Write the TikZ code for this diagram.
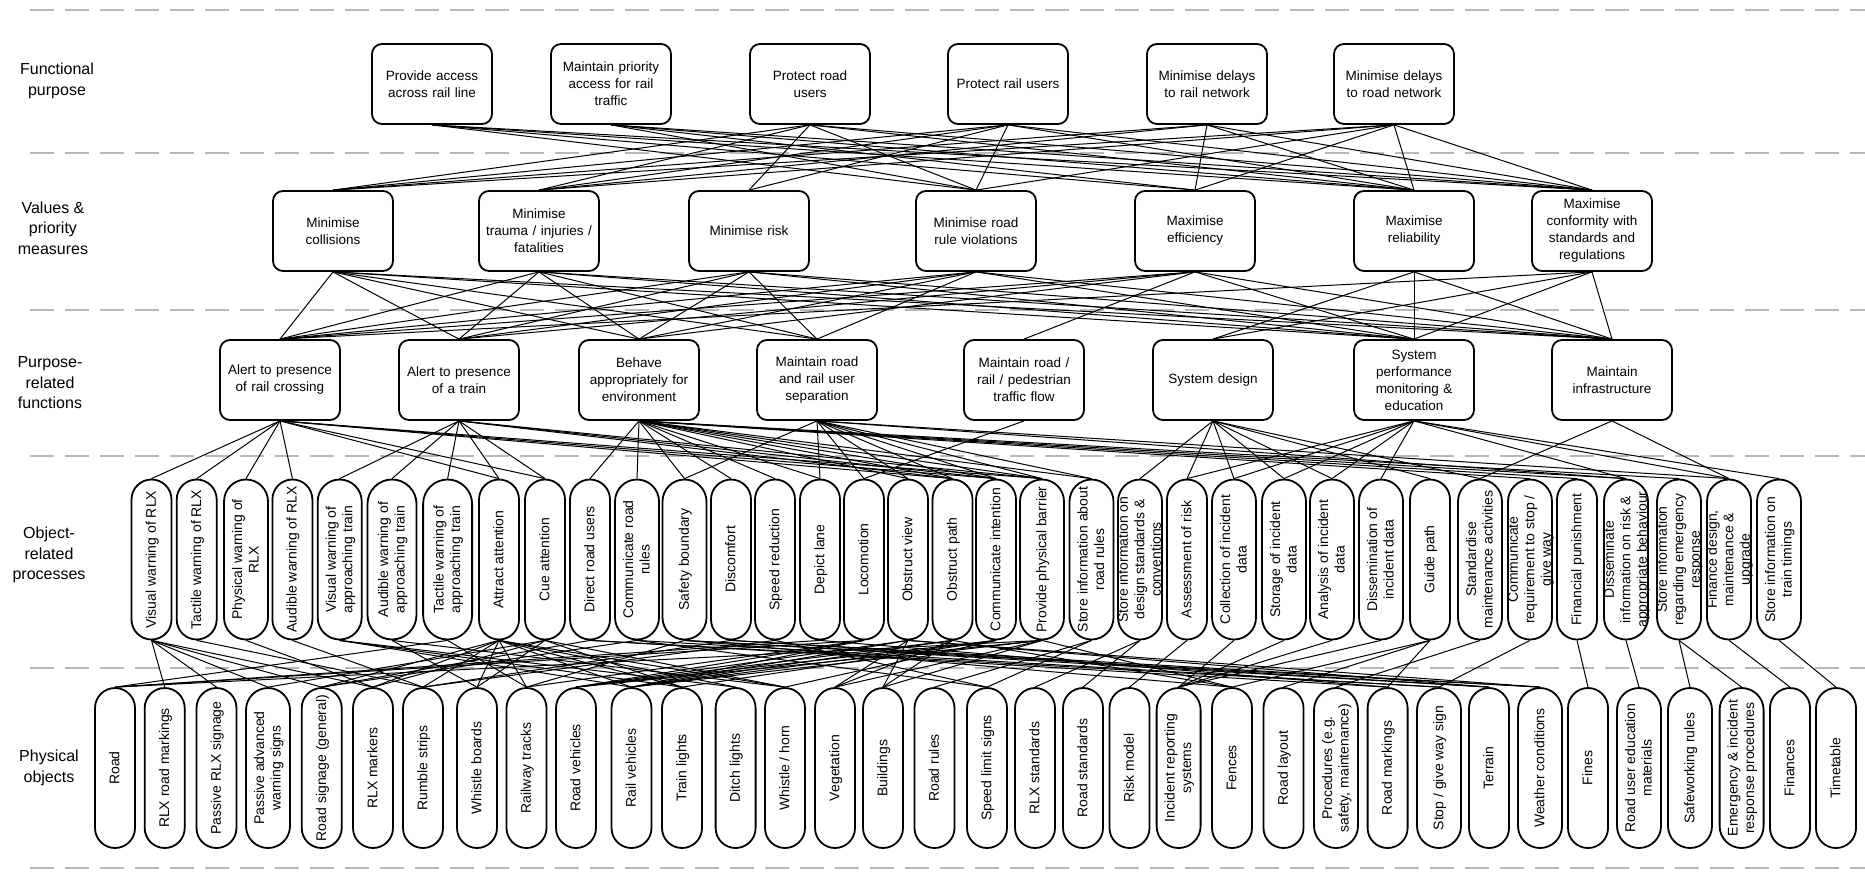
\documentclass[tikz,border=0pt]{standalone}
\usepackage{fontspec}
\setmainfont{Liberation Sans}
\usetikzlibrary{shapes.misc}

% text of a vertical pill, centred and allowed to run over its border
\newcommand{\pilltext}[1]{\makebox[0pt]{\smash{\raisebox{-.33em}{\begin{tabular}{@{}c@{}}#1\end{tabular}}}}}

\begin{document}
\begin{tikzpicture}[
  x=1pt,y=-1pt,
  box/.style={draw,fill=white,line width=1.8pt,rounded corners=10pt,align=center,text width=112pt,minimum width=120pt,minimum height=80pt,inner sep=1pt,font=\fontsize{13.5}{17}\selectfont},
  pill/.style={draw,fill=white,line width=1.8pt,rounded rectangle,rotate=90,minimum width=160pt,minimum height=#1,inner sep=0pt,font=\fontsize{14}{16.5}\selectfont},
  pill/.default=40pt,
  tier/.style={align=center,font=\fontsize{16}{20.5}\selectfont},
  sep/.style={draw=black!28,line width=1.6pt,dash pattern=on 24pt off 11pt},
  link/.style={line width=1pt}
]
\useasboundingbox (0,0) rectangle (1865,875);

\foreach \y in {10,153,310,456,668,868}
  \draw[sep] (30,\y) -- (1865,\y);

% level names
\node[tier] (tfp) at (57,81) {Functional\\purpose};
\node[tier] (tvp) at (53,228) {Values \&\\priority\\measures};
\node[tier] (tpf) at (50,383) {Purpose-\\related\\functions};
\node[tier] (top) at (49,555) {Object-\\related\\processes};
\node[tier] (tpo) at (49,768) {Physical\\objects};

% functional purpose
\node[box] (access) at (432,84) {Provide access\\across rail line};
\node[box] (priority) at (611,84) {Maintain priority\\access for rail\\traffic};
\node[box] (protroad) at (810,84) {Protect road\\users};
\node[box] (protrail) at (1008,84) {Protect rail users};
\node[box] (delrail) at (1207,84) {Minimise delays\\to rail network};
\node[box] (delroad) at (1394,84) {Minimise delays\\to road network};

% values and priority measures
\node[box] (collis) at (333,231) {Minimise\\collisions};
\node[box] (trauma) at (539,231) {Minimise\\trauma / injuries /\\fatalities};
\node[box] (risk) at (749,231) {Minimise risk};
\node[box] (rulevio) at (976,231) {Minimise road\\rule violations};
\node[box] (effic) at (1195,231) {Maximise\\efficiency};
\node[box] (reliab) at (1414,231) {Maximise\\reliability};
\node[box] (conform) at (1592,231) {Maximise\\conformity with\\standards and\\regulations};

% purpose-related functions
\node[box] (alertx) at (280,380) {Alert to presence\\of rail crossing};
\node[box] (alertt) at (459,380) {Alert to presence\\of a train};
\node[box] (behave) at (639,380) {Behave\\appropriately for\\environment};
\node[box] (separ) at (817,380) {Maintain road\\and rail user\\separation};
\node[box] (flow) at (1024,380) {Maintain road /\\rail / pedestrian\\traffic flow};
\node[box] (sysdes) at (1213,380) {System design};
\node[box] (sysperf) at (1414,380) {System\\performance\\monitoring \&\\education};
\node[box] (infra) at (1612,380) {Maintain\\infrastructure};

% object-related processes
\foreach \nm/\px/\pw/\txt in {
  visrlx/151.5/40/{Visual warning of RLX},
  tacrlx/196.7/40/{Tactile warning of RLX},
  physrlx/246/44/{Physical warning of\\RLX},
  audrlx/292.4/40/{Audible warning of RLX},
  visat/339.7/44/{Visual warning of\\approaching train},
  audat/392/49/{Audible warning of\\approaching train},
  tacat/447.6/49/{Tactile warning of\\approaching train},
  attract/499/40/{Attract attention},
  cue/545/40/{Cue attention},
  direct/590/40/{Direct road users},
  commrules/637/44/{Communicate road\\rules},
  safety/684.5/44/{Safety boundary},
  discomf/731/40/{Discomfort},
  speed/775/40/{Speed reduction},
  depict/820/40/{Depict lane},
  locom/864/40/{Locomotion},
  obsview/908/40/{Obstruct view},
  obspath/952.5/40/{Obstruct path},
  commint/996/40/{Communicate intention},
  barrier/1042/44/{Provide physical barrier},
  storerules/1091.5/44/{Store information about\\road rules},
  storedes/1140/44/{Store information on\\design standards \&\\conventions},
  assess/1187/40/{Assessment of risk},
  collect/1234/44/{Collection of incident\\data},
  storage/1284/44/{Storage of incident\\data},
  analysis/1332/44/{Analysis of incident\\data},
  dissem/1381/44/{Dissemination of\\incident data},
  guide/1430/40/{Guide path},
  standard/1480/44/{Standardise\\maintenance activities},
  commstop/1530/44/{Communicate\\requirement to stop /\\give way},
  finpun/1577/40/{Financial punishment},
  dissinfo/1626/44/{Disseminate\\information on risk \&\\appropriate behaviour},
  storeemerg/1679/44/{Store information\\regarding emergency\\response},
  finance/1729/44/{Finance design,\\maintenance \&\\upgrade},
  timings/1779/44/{Store information on\\train timings}}
  \node[pill=\pw pt] (\nm) at (\px,559.5) {\pilltext{\txt}};

% physical objects
\foreach \nm/\px/\pw/\txt in {
  road/115/40/{Road},
  rlxmark/164.7/40/{RLX road markings},
  passrlx/216.5/40/{Passive RLX signage},
  passadv/268/44/{Passive advanced\\warning signs},
  roadsign/321.7/40/{Road signage (general)},
  rlxmarkers/373/40/{RLX markers},
  rumble/423/40/{Rumble strips},
  whistleb/477/40/{Whistle boards},
  railtracks/526.5/40/{Railway tracks},
  roadveh/576/40/{Road vehicles},
  railveh/631.5/40/{Rail vehicles},
  trainlt/682/40/{Train lights},
  ditchlt/735.6/40/{Ditch lights},
  horn/785/40/{Whistle / horn},
  veget/835/40/{Vegetation},
  build/883/40/{Buildings},
  roadrules/934.5/40/{Road rules},
  speedsign/987/40/{Speed limit signs},
  rlxstd/1035/40/{RLX standards},
  roadstd/1083/40/{Road standards},
  riskmod/1129.5/40/{Risk model},
  increp/1178.6/44/{Incident reporting\\systems},
  fences/1232/40/{Fences},
  layout/1283.5/40/{Road layout},
  proced/1336/44/{Procedures (e.g.\\safety, maintenance)},
  roadmark/1387.6/40/{Road markings},
  stopsign/1439/44/{Stop / give way sign},
  terrain/1489/40/{Terrain},
  weather/1540/44/{Weather conditions},
  fines/1588/40/{Fines},
  educ/1639/44/{Road user education\\materials},
  safework/1690/44/{Safeworking rules},
  emerg/1741.6/44/{Emergency \& incident\\response procedures},
  finances/1790/40/{Finances},
  timetable/1836/40/{Timetable}}
  \node[pill=\pw pt] (\nm) at (\px,768) {\pilltext{\txt}};

% purposes to values
\foreach \a/\b in {access/rulevio,access/effic,access/reliab,access/conform,
  priority/rulevio,priority/effic,priority/reliab,priority/conform,
  protroad/collis,protroad/trauma,protroad/risk,protroad/rulevio,protroad/reliab,protroad/conform,
  protrail/collis,protrail/trauma,protrail/risk,protrail/rulevio,protrail/reliab,protrail/conform,
  delrail/collis,delrail/trauma,delrail/effic,delrail/reliab,delrail/conform,
  delroad/collis,delroad/trauma,delroad/rulevio,delroad/effic,delroad/reliab,delroad/conform}
  \draw[link] (\a.south) -- (\b.north);

% values to functions
\foreach \a/\b in {collis/alertx,collis/alertt,collis/behave,collis/separ,collis/sysperf,collis/infra,
  trauma/alertx,trauma/alertt,trauma/behave,trauma/separ,trauma/sysperf,trauma/infra,
  risk/alertx,risk/alertt,risk/behave,risk/separ,risk/sysperf,risk/infra,
  rulevio/alertx,rulevio/alertt,rulevio/behave,rulevio/separ,rulevio/sysperf,rulevio/infra,
  effic/alertx,effic/alertt,effic/behave,effic/flow,effic/sysperf,effic/infra,
  reliab/sysdes,reliab/sysperf,reliab/infra,
  conform/alertx,conform/sysdes,conform/sysperf,conform/infra}
  \draw[link] (\a.south) -- (\b.north);

% functions to processes
\foreach \a/\b in {alertx/visrlx,alertx/tacrlx,alertx/physrlx,alertx/audrlx,alertx/attract,alertx/cue,alertx/obspath,alertx/commint,alertx/barrier,
  alertt/visat,alertt/audat,alertt/tacat,alertt/attract,alertt/cue,alertt/obspath,alertt/commint,alertt/barrier,
  behave/direct,behave/commrules,behave/safety,behave/discomf,behave/speed,behave/depict,behave/obsview,behave/obspath,behave/commint,behave/barrier,behave/storerules,behave/commstop,behave/finpun,behave/dissinfo,behave/storeemerg,
  separ/safety,separ/depict,separ/locom,separ/obsview,separ/obspath,separ/commint,separ/barrier,separ/storerules,separ/dissinfo,separ/finance,
  flow/locom,
  sysdes/storedes,sysdes/assess,sysdes/collect,sysdes/storage,sysdes/analysis,sysdes/guide,sysdes/standard,
  sysperf/assess,sysperf/collect,sysperf/storage,sysperf/analysis,sysperf/dissem,sysperf/dissinfo,sysperf/finance,sysperf/timings,
  infra/standard,infra/finance}
  \draw[link] (\a.south) -- (\b.east);

% processes to objects
\foreach \a/\b in {visrlx/rlxmark,visrlx/passrlx,visrlx/passadv,visrlx/roadsign,visrlx/rlxmarkers,
  tacrlx/rumble,physrlx/rlxmarkers,audrlx/rumble,
  visat/trainlt,visat/ditchlt,visat/railveh,
  audat/horn,audat/whistleb,
  tacat/road,tacat/railtracks,
  attract/roadsign,attract/rlxmarkers,attract/rumble,attract/whistleb,attract/railtracks,attract/railveh,attract/trainlt,attract/ditchlt,attract/horn,
  cue/passadv,cue/rlxmarkers,cue/whistleb,cue/trainlt,cue/horn,
  direct/roadsign,direct/roadmark,direct/stopsign,
  commrules/roadsign,commrules/speedsign,commrules/stopsign,
  safety/railtracks,safety/fences,safety/terrain,safety/weather,
  discomf/rumble,discomf/terrain,discomf/weather,
  speed/rumble,speed/speedsign,
  depict/roadmark,depict/road,
  locom/road,locom/railtracks,locom/roadveh,locom/railveh,
  obsview/veget,obsview/build,obsview/roadveh,obsview/railveh,obsview/terrain,obsview/weather,
  obspath/veget,obspath/build,obspath/roadveh,obspath/railveh,obspath/fences,
  commint/roadveh,commint/railveh,commint/trainlt,commint/horn,
  barrier/road,barrier/roadveh,barrier/railveh,barrier/fences,barrier/veget,barrier/build,
  storerules/roadrules,storerules/speedsign,
  storedes/rlxstd,storedes/roadstd,
  assess/riskmod,
  collect/increp,storage/increp,analysis/increp,dissem/increp,
  guide/layout,guide/roadmark,guide/fences,
  standard/proced,commstop/stopsign,finpun/fines,dissinfo/educ,
  storeemerg/safework,storeemerg/emerg,finance/finances,timings/timetable}
  \draw[link] (\a.west) -- (\b.east);
\end{tikzpicture}
\end{document}
